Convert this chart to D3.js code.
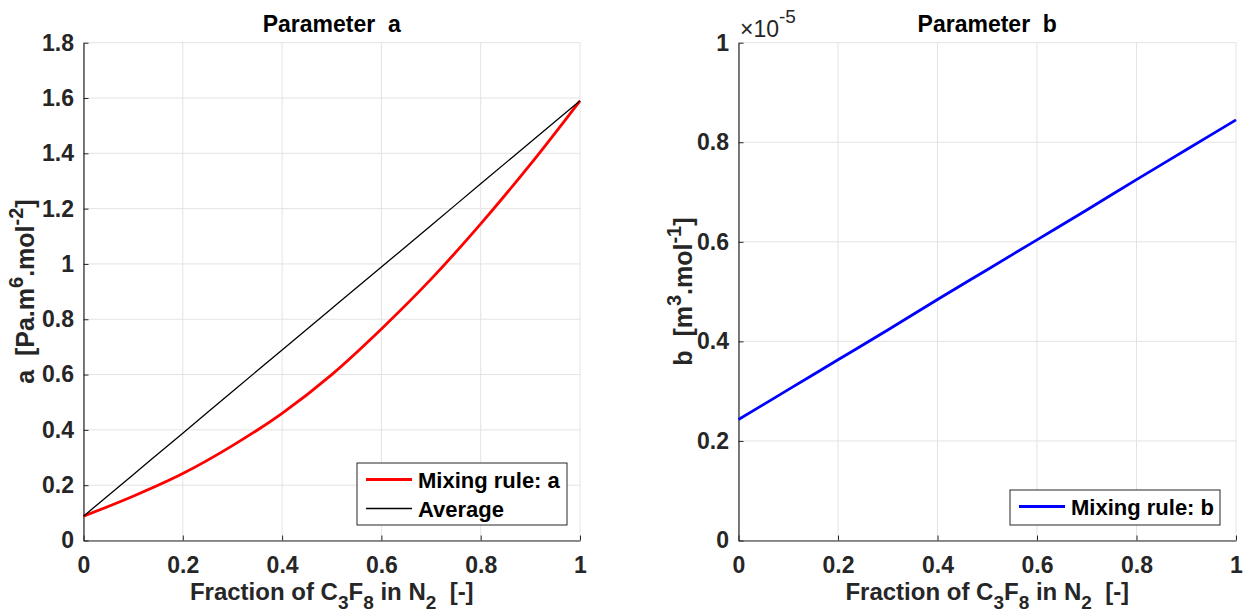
<!DOCTYPE html>
<html>
<head>
<meta charset="utf-8">
<script src="https://cdn.jsdelivr.net/npm/d3@7"></script>
<style>
body { margin: 0; background: #fff; }
text { font-family: "Liberation Sans", Arial, sans-serif; }
</style>
</head>
<body>
<script>
var w = 1250;
var h = 612;

// fraction of C3F8
var fraction = [0, 0.1, 0.2, 0.3, 0.4, 0.5, 0.6, 0.7, 0.8, 0.9, 1];
// parameter a, mixing rule
var aMixing = [0.088, 0.160, 0.242, 0.343, 0.460, 0.600, 0.765, 0.945, 1.145, 1.360, 1.590];
// parameter a, linear average
var aAverage = [0.088, 0.238, 0.388, 0.539, 0.689, 0.839, 0.989, 1.139, 1.290, 1.440, 1.590];
// parameter b (x 1e-5)
var bMixing = [0.243, 0.303, 0.363, 0.423, 0.484, 0.544, 0.604, 0.664, 0.725, 0.785, 0.845];

var xTicks = [0, 0.2, 0.4, 0.6, 0.8, 1];
var aTicks = [0, 0.2, 0.4, 0.6, 0.8, 1, 1.2, 1.4, 1.6, 1.8];
var bTicks = [0, 0.2, 0.4, 0.6, 0.8, 1];

var axisColor = "#262626";
var gridColor = "#e3e3e3";
var fontSize = 22;

var svg = d3.select("body")
    .append("svg")
        .attr("width", w)
        .attr("height", h);

var fmt = function(d) { return d3.format("~g")(d); };

function drawPanel(opts) {
    var x = d3.scaleLinear().domain([0, 1]).range([opts.left, opts.right]);
    var y = d3.scaleLinear().domain(opts.yDomain).range([opts.bottom, opts.top]);
    var g = svg.append("g");

    // grid
    g.selectAll(".gx").data(xTicks).enter().append("line")
        .attr("x1", function(d) { return x(d); })
        .attr("x2", function(d) { return x(d); })
        .attr("y1", opts.top).attr("y2", opts.bottom)
        .attr("stroke", gridColor).attr("stroke-width", 1);
    g.selectAll(".gy").data(opts.yTicks).enter().append("line")
        .attr("y1", function(d) { return y(d); })
        .attr("y2", function(d) { return y(d); })
        .attr("x1", opts.left).attr("x2", opts.right)
        .attr("stroke", gridColor).attr("stroke-width", 1);

    // axes
    var xAxis = d3.axisBottom(x).tickValues(xTicks).tickFormat(fmt).tickSizeInner(-5).tickSizeOuter(0).tickPadding(16);
    var yAxis = d3.axisLeft(y).tickValues(opts.yTicks).tickFormat(fmt).tickSizeInner(-5).tickSizeOuter(0).tickPadding(9.5);

    var gx = g.append("g").attr("transform", "translate(0," + opts.bottom + ")").call(xAxis);
    var gy = g.append("g").attr("transform", "translate(" + opts.left + ",0)").call(yAxis);
    [gx, gy].forEach(function(a) {
        a.select(".domain").attr("stroke", axisColor).attr("stroke-width", 1.2);
        a.selectAll(".tick line").attr("stroke", axisColor);
        a.selectAll(".tick text")
            .attr("fill", axisColor)
            .style("font-size", "23px")
            .style("font-weight", "bold")
            .style("font-family", "'Liberation Sans', Arial, sans-serif");
    });

    // lines
    var line = d3.line()
        .x(function(d) { return x(d[0]); })
        .y(function(d) { return y(d[1]); })
        .curve(d3.curveMonotoneX);
    opts.series.forEach(function(s) {
        g.append("path")
            .datum(fraction.map(function(f, i) { return [f, s.values[i]]; }))
            .attr("fill", "none")
            .attr("stroke", s.color)
            .attr("stroke-width", s.width)
            .attr("d", line);
    });

    // title
    g.append("text")
        .attr("x", (opts.left + opts.right) / 2)
        .attr("y", 32)
        .attr("text-anchor", "middle")
        .attr("font-weight", "bold")
        .attr("font-size", 23)
        .attr("fill", "#000")
        .attr("xml:space", "preserve")
        .text(opts.title);

    // x label
    var xl = g.append("text")
        .attr("x", (opts.left + opts.right) / 2)
        .attr("y", 600)
        .attr("text-anchor", "middle")
        .attr("font-weight", "bold")
        .attr("font-size", 24)
        .attr("fill", axisColor)
        .attr("xml:space", "preserve");
    xl.append("tspan").text("Fraction of C");
    xl.append("tspan").attr("dy", 9).attr("font-size", 19).text("3");
    xl.append("tspan").attr("dy", -9).text("F");
    xl.append("tspan").attr("dy", 9).attr("font-size", 19).text("8");
    xl.append("tspan").attr("dy", -9).text(" in N");
    xl.append("tspan").attr("dy", 9).attr("font-size", 19).text("2");
    xl.append("tspan").attr("dy", -9).text("  [-]");

    // y label
    var yl = g.append("text")
        .attr("transform", "translate(" + opts.yLabelX + "," + (opts.top + opts.bottom) / 2 + ") rotate(-90)")
        .attr("text-anchor", "middle")
        .attr("font-weight", "bold")
        .attr("font-size", 25)
        .attr("fill", axisColor)
        .attr("xml:space", "preserve");
    opts.yLabel.forEach(function(p) {
        var t = yl.append("tspan").text(p[0]);
        if (p[1] === "sup") t.attr("dy", -11).attr("font-size", 20);
        if (p[1] === "down") t.attr("dy", 11);
    });

    // legend
    var lg = g.append("g");
    lg.append("rect")
        .attr("x", opts.legend.x).attr("y", opts.legend.y)
        .attr("width", opts.legend.w).attr("height", opts.legend.h)
        .attr("fill", "#fff").attr("stroke", axisColor).attr("stroke-width", 1);
    opts.series.forEach(function(s, i) {
        var ly = opts.legend.y + 16.5 + i * 29;
        lg.append("line")
            .attr("x1", opts.legend.x + 9).attr("x2", opts.legend.x + 55)
            .attr("y1", ly).attr("y2", ly)
            .attr("stroke", s.color).attr("stroke-width", s.width);
        lg.append("text")
            .attr("x", opts.legend.x + 61).attr("y", ly + 8)
            .attr("font-weight", "bold").attr("font-size", fontSize)
            .attr("fill", "#000")
            .text(s.name);
    });
    return { x: x, y: y };
}

drawPanel({
    left: 83.5, right: 580, top: 42.7, bottom: 540.5,
    yDomain: [0, 1.8], yTicks: aTicks,
    title: "Parameter  a",
    yLabelX: 34,
    yLabel: [["a  [Pa.m"], ["6", "sup"], [".mol", "down"], ["-2", "sup"], ["]", "down"]],
    series: [
        { name: "Mixing rule: a", values: aMixing, color: "#ff0000", width: 2.8 },
        { name: "Average", values: aAverage, color: "#000000", width: 1.3 }
    ],
    legend: { x: 357, y: 463, w: 210, h: 62 }
});

drawPanel({
    left: 738.5, right: 1236, top: 42.7, bottom: 540.5,
    yDomain: [0, 1], yTicks: bTicks,
    title: "Parameter  b",
    yLabelX: 692,
    yLabel: [["b  [m"], ["3", "sup"], [".mol", "down"], ["-1", "sup"], ["]", "down"]],
    series: [
        { name: "Mixing rule: b", values: bMixing, color: "#0000ff", width: 2.8 }
    ],
    legend: { x: 1010, y: 490, w: 210, h: 35 }
});

// exponent label
var ex = svg.append("text")
    .attr("x", 740).attr("y", 37)
    .attr("font-size", 23)
    .attr("fill", axisColor);
ex.append("tspan").text("\u00d710");
ex.append("tspan").attr("dy", -14).attr("font-size", 19).text("-5");
</script>
</body>
</html>
